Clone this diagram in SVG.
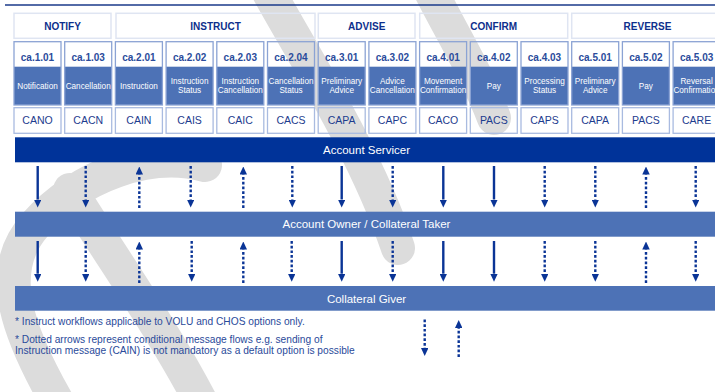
<svg xmlns="http://www.w3.org/2000/svg" width="715" height="392" viewBox="0 0 715 392">
<defs>
<style>
.hdr{fill:none;stroke:#dfe5f2;stroke-width:1.5}
.ht{font-family:"Liberation Sans",Arial,sans-serif;font-weight:bold;font-size:10px;fill:#0d2f8c;text-anchor:middle}
.frame{fill:none;stroke:#8ba3d4;stroke-width:1.3}
.blue{fill:#4d72b6}
.code{font-family:"Liberation Sans",Arial,sans-serif;font-weight:bold;font-size:10px;fill:#2a4b9b;text-anchor:middle}
.lbl{font-family:"Liberation Sans",Arial,sans-serif;font-size:8.2px;fill:#ffffff;text-anchor:middle}
.mbox{fill:none;stroke:#a9bbe0;stroke-width:1.3}
.msg{font-family:"Liberation Sans",Arial,sans-serif;font-size:10.5px;fill:#1d3c8e;text-anchor:middle}
.bar1{fill:#003399}
.bar2{fill:#4d72b6}
.bt{font-family:"Liberation Sans",Arial,sans-serif;font-size:11.5px;fill:#ffffff;text-anchor:middle}
.arr{stroke:#0a3496;stroke-width:2.4;fill:none;marker-end:url(#ah)}
.dot{stroke-dasharray:2.7 2}
.note{font-family:"Liberation Sans",Arial,sans-serif;font-size:10.2px;fill:#2a4a9a}
</style>
<marker id="ah" viewBox="0 0 8 7.5" refX="0" refY="3.75" markerWidth="8" markerHeight="7.5" markerUnits="userSpaceOnUse" orient="auto">
<path d="M0,0 L8,3.75 L0,7.5 z" fill="#0a3496"/>
</marker>
</defs>
<rect width="715" height="392" fill="#ffffff"/>
<g id="watermark" fill="none" stroke="#dcdcdc" stroke-width="34" stroke-linecap="round">
<path d="M262,-20 C300,50 365,150 398,248"/>
<path d="M425,-20 C450,30 478,75 494,118"/>
<path d="M62,410 C15,330 -5,270 35,225 C80,175 150,150 205,165"/>
<path d="M205,410 C170,340 120,270 70,190"/>
</g>
<line x1="5" y1="5" x2="715" y2="5" stroke="#1a3a8a" stroke-width="1.6"/>
<g id="headers">
<g id="h-notify"><rect class="hdr" x="14" y="13.3" width="97" height="25"/><text class="ht" x="62.5" y="29.5">NOTIFY</text></g>
<g id="h-instruct"><rect class="hdr" x="116" y="13.3" width="199" height="25"/><text class="ht" x="215.5" y="29.5">INSTRUCT</text></g>
<g id="h-advise"><rect class="hdr" x="318.3" y="13.3" width="96.7" height="25"/><text class="ht" x="366.7" y="29.5">ADVISE</text></g>
<g id="h-confirm"><rect class="hdr" x="419.7" y="13.3" width="148" height="25"/><text class="ht" x="493.7" y="29.5">CONFIRM</text></g>
<g id="h-reverse"><rect class="hdr" x="571.7" y="13.3" width="151.7" height="25"/><text class="ht" x="647.5" y="29.5">REVERSE</text></g>
</g>
<g id="ca101"><rect class="blue" x="14" y="66.7" width="47" height="38.3"/><rect class="frame" x="14" y="41.7" width="47" height="63.3"/><text class="code" x="37.5" y="61">ca.1.01</text><text class="lbl" x="37.5" y="89">Notification</text><rect class="mbox" x="14" y="107.7" width="47" height="25.6"/><text class="msg" x="37.5" y="124">CANO</text></g>
<g id="ca103"><rect class="blue" x="64.7" y="66.7" width="47" height="38.3"/><rect class="frame" x="64.7" y="41.7" width="47" height="63.3"/><text class="code" x="88.2" y="61">ca.1.03</text><text class="lbl" x="88.2" y="89">Cancellation</text><rect class="mbox" x="64.7" y="107.7" width="47" height="25.6"/><text class="msg" x="88.2" y="124">CACN</text></g>
<g id="ca201"><rect class="blue" x="115.4" y="66.7" width="47" height="38.3"/><rect class="frame" x="115.4" y="41.7" width="47" height="63.3"/><text class="code" x="138.9" y="61">ca.2.01</text><text class="lbl" x="138.9" y="89">Instruction</text><rect class="mbox" x="115.4" y="107.7" width="47" height="25.6"/><text class="msg" x="138.9" y="124">CAIN</text></g>
<g id="ca202"><rect class="blue" x="166.1" y="66.7" width="47" height="38.3"/><rect class="frame" x="166.1" y="41.7" width="47" height="63.3"/><text class="code" x="189.6" y="61">ca.2.02</text><text class="lbl" x="189.6" y="84">Instruction</text><text class="lbl" x="189.6" y="93">Status</text><rect class="mbox" x="166.1" y="107.7" width="47" height="25.6"/><text class="msg" x="189.6" y="124">CAIS</text></g>
<g id="ca203"><rect class="blue" x="216.8" y="66.7" width="47" height="38.3"/><rect class="frame" x="216.8" y="41.7" width="47" height="63.3"/><text class="code" x="240.3" y="61">ca.2.03</text><text class="lbl" x="240.3" y="84">Instruction</text><text class="lbl" x="240.3" y="93">Cancellation</text><rect class="mbox" x="216.8" y="107.7" width="47" height="25.6"/><text class="msg" x="240.3" y="124">CAIC</text></g>
<g id="ca204"><rect class="blue" x="267.5" y="66.7" width="47" height="38.3"/><rect class="frame" x="267.5" y="41.7" width="47" height="63.3"/><text class="code" x="291" y="61">ca.2.04</text><text class="lbl" x="291" y="84">Cancellation</text><text class="lbl" x="291" y="93">Status</text><rect class="mbox" x="267.5" y="107.7" width="47" height="25.6"/><text class="msg" x="291" y="124">CACS</text></g>
<g id="ca301"><rect class="blue" x="318.2" y="66.7" width="47" height="38.3"/><rect class="frame" x="318.2" y="41.7" width="47" height="63.3"/><text class="code" x="341.7" y="61">ca.3.01</text><text class="lbl" x="341.7" y="84">Preliminary</text><text class="lbl" x="341.7" y="93">Advice</text><rect class="mbox" x="318.2" y="107.7" width="47" height="25.6"/><text class="msg" x="341.7" y="124">CAPA</text></g>
<g id="ca302"><rect class="blue" x="368.9" y="66.7" width="47" height="38.3"/><rect class="frame" x="368.9" y="41.7" width="47" height="63.3"/><text class="code" x="392.4" y="61">ca.3.02</text><text class="lbl" x="392.4" y="84">Advice</text><text class="lbl" x="392.4" y="93">Cancellation</text><rect class="mbox" x="368.9" y="107.7" width="47" height="25.6"/><text class="msg" x="392.4" y="124">CAPC</text></g>
<g id="ca401"><rect class="blue" x="419.6" y="66.7" width="47" height="38.3"/><rect class="frame" x="419.6" y="41.7" width="47" height="63.3"/><text class="code" x="443.1" y="61">ca.4.01</text><text class="lbl" x="443.1" y="84">Movement</text><text class="lbl" x="443.1" y="93">Confirmation</text><rect class="mbox" x="419.6" y="107.7" width="47" height="25.6"/><text class="msg" x="443.1" y="124">CACO</text></g>
<g id="ca402"><rect class="blue" x="470.3" y="66.7" width="47" height="38.3"/><rect class="frame" x="470.3" y="41.7" width="47" height="63.3"/><text class="code" x="493.8" y="61">ca.4.02</text><text class="lbl" x="493.8" y="89">Pay</text><rect class="mbox" x="470.3" y="107.7" width="47" height="25.6"/><text class="msg" x="493.8" y="124">PACS</text></g>
<g id="ca403"><rect class="blue" x="521" y="66.7" width="47" height="38.3"/><rect class="frame" x="521" y="41.7" width="47" height="63.3"/><text class="code" x="544.5" y="61">ca.4.03</text><text class="lbl" x="544.5" y="84">Processing</text><text class="lbl" x="544.5" y="93">Status</text><rect class="mbox" x="521" y="107.7" width="47" height="25.6"/><text class="msg" x="544.5" y="124">CAPS</text></g>
<g id="ca501"><rect class="blue" x="571.7" y="66.7" width="47" height="38.3"/><rect class="frame" x="571.7" y="41.7" width="47" height="63.3"/><text class="code" x="595.2" y="61">ca.5.01</text><text class="lbl" x="595.2" y="84">Preliminary</text><text class="lbl" x="595.2" y="93">Advice</text><rect class="mbox" x="571.7" y="107.7" width="47" height="25.6"/><text class="msg" x="595.2" y="124">CAPA</text></g>
<g id="ca502"><rect class="blue" x="622.4" y="66.7" width="47" height="38.3"/><rect class="frame" x="622.4" y="41.7" width="47" height="63.3"/><text class="code" x="645.9" y="61">ca.5.02</text><text class="lbl" x="645.9" y="89">Pay</text><rect class="mbox" x="622.4" y="107.7" width="47" height="25.6"/><text class="msg" x="645.9" y="124">PACS</text></g>
<g id="ca503"><rect class="blue" x="673.1" y="66.7" width="47" height="38.3"/><rect class="frame" x="673.1" y="41.7" width="47" height="63.3"/><text class="code" x="696.6" y="61">ca.5.03</text><text class="lbl" x="696.6" y="84">Reversal</text><text class="lbl" x="696.6" y="93">Confirmation</text><rect class="mbox" x="673.1" y="107.7" width="47" height="25.6"/><text class="msg" x="696.6" y="124">CARE</text></g>
<g id="account-servicer"><rect class="bar1" x="15" y="137.3" width="705" height="25"/><text class="bt" x="366.5" y="154">Account Servicer</text></g>
<g id="account-owner"><rect class="bar2" x="15" y="211.7" width="705" height="25"/><text class="bt" x="366.5" y="228.3">Account Owner / Collateral Taker</text></g>
<g id="collateral-giver"><rect class="bar2" x="15" y="286" width="705" height="24.7"/><text class="bt" x="366.5" y="302.5">Collateral Giver</text></g>
<g id="connectors">
<line class="arr" x1="37.7" y1="166" x2="37.7" y2="199.5"/>
<line class="arr dot" x1="85.7" y1="166" x2="85.7" y2="199.5"/>
<line class="arr dot" x1="139.3" y1="208" x2="139.3" y2="174.5"/>
<line class="arr dot" x1="190.7" y1="166" x2="190.7" y2="199.5"/>
<line class="arr dot" x1="243.3" y1="208" x2="243.3" y2="174.5"/>
<line class="arr dot" x1="292.3" y1="166" x2="292.3" y2="199.5"/>
<line class="arr" x1="341.7" y1="166" x2="341.7" y2="199.5"/>
<line class="arr dot" x1="392.7" y1="166" x2="392.7" y2="199.5"/>
<line class="arr" x1="443.3" y1="166" x2="443.3" y2="199.5"/>
<line class="arr" x1="494" y1="166" x2="494" y2="199.5"/>
<line class="arr dot" x1="544.7" y1="166" x2="544.7" y2="199.5"/>
<line class="arr dot" x1="595.3" y1="166" x2="595.3" y2="199.5"/>
<line class="arr dot" x1="646" y1="208" x2="646" y2="174.5"/>
<line class="arr dot" x1="695.7" y1="166" x2="695.7" y2="199.5"/>
<line class="arr" x1="37.7" y1="241" x2="37.7" y2="273.7"/>
<line class="arr dot" x1="85.7" y1="241" x2="85.7" y2="273.7"/>
<line class="arr dot" x1="139.3" y1="283" x2="139.3" y2="249.5"/>
<line class="arr dot" x1="191.7" y1="241" x2="191.7" y2="273.7"/>
<line class="arr dot" x1="243.3" y1="283" x2="243.3" y2="249.5"/>
<line class="arr dot" x1="291.7" y1="241" x2="291.7" y2="273.7"/>
<line class="arr" x1="341.7" y1="241" x2="341.7" y2="273.7"/>
<line class="arr dot" x1="392.7" y1="241" x2="392.7" y2="273.7"/>
<line class="arr" x1="443.3" y1="241" x2="443.3" y2="273.7"/>
<line class="arr" x1="494" y1="241" x2="494" y2="273.7"/>
<line class="arr dot" x1="544.7" y1="241" x2="544.7" y2="273.7"/>
<line class="arr dot" x1="595.3" y1="241" x2="595.3" y2="273.7"/>
<line class="arr dot" x1="646" y1="283" x2="646" y2="249.5"/>
<line class="arr dot" x1="695.7" y1="241" x2="695.7" y2="273.7"/>
</g>
<g id="legend">
<line class="arr dot" x1="424.7" y1="319.5" x2="424.7" y2="348"/>
<line class="arr dot" x1="458.7" y1="357" x2="458.7" y2="328"/>
<text class="note" x="15" y="325">* Instruct workflows applicable to VOLU and CHOS options only.</text>
<text class="note" x="15" y="342.5">* Dotted arrows represent conditional message flows e.g. sending of</text>
<text class="note" x="15" y="354">Instruction message (CAIN) is not mandatory as a default option is possible</text>
</g>
</svg>
